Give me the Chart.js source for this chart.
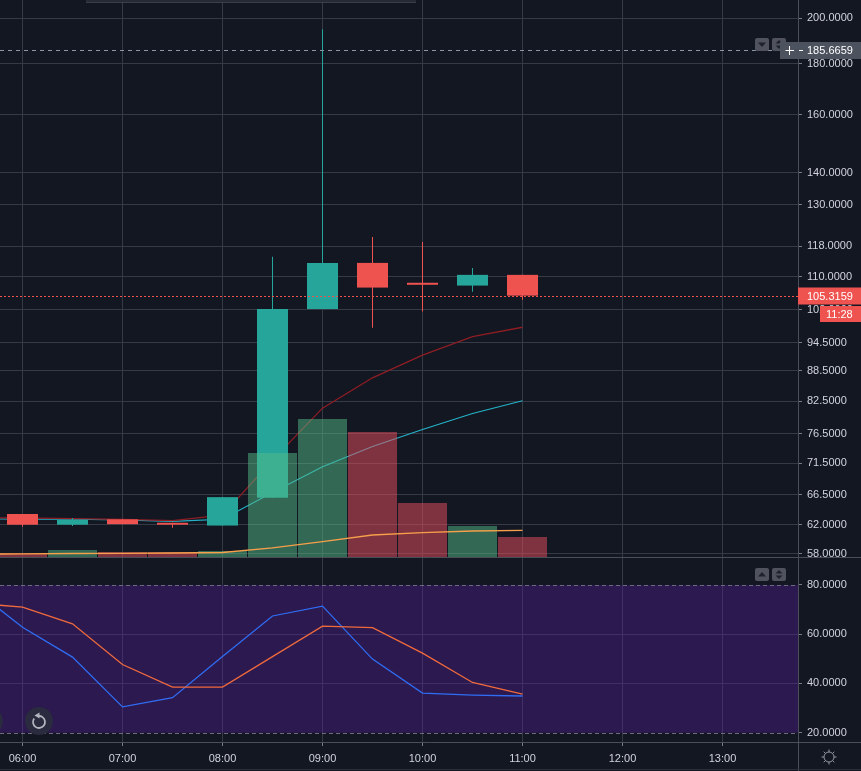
<!DOCTYPE html>
<html><head><meta charset="utf-8">
<script src="https://cdn.jsdelivr.net/npm/chart.js@4.4.1/dist/chart.umd.min.js"></script>
<style>
html,body{margin:0;padding:0;background:#131722;overflow:hidden;}
canvas{display:block;}
</style></head>
<body>
<canvas id="main" width="861" height="557"></canvas>
<canvas id="osc" width="861" height="214"></canvas>
<script>
// ---------------- data ----------------
const candleTimes  = ['06:00','06:30','07:00','07:30','08:00','08:30','09:00','09:30','10:00','10:30','11:00'];
const openValues   = [63.58, 62.02, 62.80, 62.30, 61.90, 66.00, 102.1, 113.6, 108.5, 107.8, 110.5];
const highValues   = [63.58, 63.00, 62.80, 62.30, 66.10, 115.2, 195.0, 120.6, 119.2, 112.3, 110.5];
const lowValues    = [61.74, 61.84, 62.10, 61.60, 61.90, 66.00, 102.1, 97.8, 101.5, 106.3, 104.3];
const closeValues  = [62.02, 62.72, 62.10, 62.02, 66.10, 102.1, 113.6, 107.3, 108.0, 110.5, 105.3159];
const volumeValues = [3.7, 7, 5, 5, 6, 104, 138, 125, 54, 31, 20];

const lineTimes = ['05:30','06:00','06:30','07:00','07:30','08:00','08:30','09:00','09:30','10:00','10:30','11:00'];
const fastMA   = [63.0, 63.0, 62.9, 62.8, 62.6, 63.4, 72.0, 81.2, 87.1, 91.8, 95.8, 97.9];
const slowMA   = [62.9, 62.8, 62.8, 62.7, 62.5, 62.8, 66.8, 70.9, 74.3, 77.3, 80.2, 82.6];
const volumeMA = [2.8, 3.2, 3.5, 3.7, 4.0, 4.5, 9.2, 15.3, 22.0, 24.3, 26.0, 26.7];
const stochK   = [78.7, 62.8, 50.7, 30.5, 34.2, 50.9, 67.4, 71.4, 49.9, 36.1, 35.3, 34.9];
const stochD   = [72.7, 71.0, 64.2, 47.7, 38.5, 38.5, 50.9, 63.3, 62.7, 52.3, 40.4, 35.7];

const priceTicks = [200, 180, 160, 140, 130, 118, 110, 102, 94.5, 88.5, 82.5, 76.5, 71.5, 66.5, 62, 58];
const oscTicks   = [80, 60, 40, 20];
const timeTicks  = ['06:00','07:00','08:00','09:00','10:00','11:00','12:00','13:00'];
const bandLevels = [80, 20];
const lastPrice = 105.3159;
const crosshairPrice = 185.6659;
const countdownText = '11:28';

// ---------------- helpers ----------------
function toHours(t){ const p = t.split(':').map(Number); return p[0] + p[1]/60; }
const hourGrid = timeTicks.map(toHours);
function fixedTicks(values){ return s => { s.ticks = values.map(v => ({value: v})); }; }
function fitY(s){ s.width = 63; s.paddingTop = 0; s.paddingBottom = 0; s.paddingLeft = 0; s.paddingRight = 0; }
function fitX(h){ return s => { s.height = h; s.paddingTop = 0; s.paddingBottom = 0; s.paddingLeft = 0; s.paddingRight = 0; }; }
const X_MIN = 5.775, X_MAX = 13.755;
const UP = '#26a69a', DOWN = '#ef5350';
const gridColor = '#363a45';
const tickMarkColor = '#787b86';
const sepColor = '#4a4e59';
const FONT = '11px "Liberation Sans", Arial, sans-serif';
Chart.defaults.font.family = '"Liberation Sans", Arial, sans-serif';
Chart.defaults.font.size = 11;
Chart.defaults.color = '#d1d4dc';

const isUp = i => closeValues[i] >= openValues[i];
const candleColors = candleTimes.map((t,i) => isUp(i) ? UP : DOWN);
const volColors = candleTimes.map((t,i) => isUp(i) ? 'rgba(83,185,135,0.5)' : 'rgba(235,77,92,0.5)');

function hline(ctx,x1,x2,y){ctx.beginPath();ctx.moveTo(x1,y);ctx.lineTo(x2,y);ctx.stroke();}
function vline(ctx,x,y1,y2){ctx.beginPath();ctx.moveTo(x,y1);ctx.lineTo(x,y2);ctx.stroke();}
function rrect(ctx,x,y,w,h,r){ctx.beginPath(); if(ctx.roundRect){ctx.roundRect(x,y,w,h,r);} else {ctx.rect(x,y,w,h);} }
function drawButtons(ctx, y, firstUp){
  ctx.fillStyle = '#50535e';
  rrect(ctx,755,y,14,13,2); ctx.fill();
  rrect(ctx,772,y,14,13,2); ctx.fill();
  ctx.fillStyle = '#1e222d';
  ctx.beginPath();
  if (firstUp){ ctx.moveTo(758,y+8.5); ctx.lineTo(766,y+8.5); ctx.lineTo(762,y+4); }
  else { ctx.moveTo(758,y+4.5); ctx.lineTo(766,y+4.5); ctx.lineTo(762,y+9); }
  ctx.fill();
  ctx.beginPath(); ctx.moveTo(775.5,y+5.5); ctx.lineTo(782.5,y+5.5); ctx.lineTo(779,y+2); ctx.fill();
  ctx.beginPath(); ctx.moveTo(775.5,y+7.5); ctx.lineTo(782.5,y+7.5); ctx.lineTo(779,y+11); ctx.fill();
}

const bgPlugin = { id:'bg', beforeDraw(chart){ const c = chart.ctx; c.save(); c.fillStyle='#131722'; c.fillRect(0,0,chart.width,chart.height); c.restore(); } };

const overlayMain = {
  id:'overlayMain',
  afterDatasetsDraw(chart){
    const ctx = chart.ctx, a = chart.chartArea, y = chart.scales.y;
    ctx.save();
    ctx.lineWidth = 1;
    const py = Math.round(y.getPixelForValue(lastPrice)) + 0.5;
    ctx.strokeStyle = DOWN; ctx.setLineDash([2,2]);
    hline(ctx, a.left, a.right, py);
    const cy = Math.round(y.getPixelForValue(crosshairPrice)) + 0.5;
    ctx.strokeStyle = '#8d96a8'; ctx.setLineDash([4,4]);
    hline(ctx, a.left, 780, cy);
    ctx.restore();
  },
  afterDraw(chart){
    const ctx = chart.ctx, a = chart.chartArea, y = chart.scales.y;
    ctx.save();
    // toolbar edge at top
    ctx.fillStyle = '#262a35'; ctx.fillRect(86,0,330,2);
    ctx.strokeStyle = '#3a3e4a'; ctx.lineWidth = 1; hline(ctx,86,416,2.5);
    // price axis border
    ctx.strokeStyle = sepColor; vline(ctx, a.right + 0.5, 0, chart.height);
    // pane buttons
    drawButtons(ctx, 38, false);
    // crosshair badge
    const cy = y.getPixelForValue(crosshairPrice);
    ctx.fillStyle = '#4c525e'; ctx.fillRect(780, Math.round(cy) - 8, 81, 17);
    ctx.strokeStyle = '#ffffff'; ctx.lineWidth = 1;
    hline(ctx, 785.5, 794, Math.round(cy)+0.5);
    vline(ctx, 789.5, Math.round(cy)-4, Math.round(cy)+5);
    hline(ctx, 799, 803, Math.round(cy)+0.5);
    ctx.font = FONT; ctx.textBaseline = 'middle'; ctx.textAlign = 'left'; ctx.fillStyle = '#ffffff';
    ctx.fillText(crosshairPrice.toFixed(4), 807, Math.round(cy)+1);
    // last price badge
    const py = y.getPixelForValue(lastPrice);
    ctx.fillStyle = DOWN; ctx.fillRect(798, Math.round(py) - 8.5, 63, 17);
    ctx.fillStyle = '#ffffff'; ctx.fillText(lastPrice.toFixed(4), 807, Math.round(py)+0.5);
    // countdown badge
    ctx.fillStyle = DOWN; ctx.fillRect(820, Math.round(py) + 10, 41, 16);
    ctx.fillStyle = '#ffffff'; ctx.fillText(countdownText, 826, Math.round(py) + 18.5);
    ctx.restore();
  }
};

const bandPlugin = {
  id:'band',
  beforeDatasetsDraw(chart){
    const ctx = chart.ctx, a = chart.chartArea, y = chart.scales.y;
    const y1 = y.getPixelForValue(bandLevels[0]), y2 = y.getPixelForValue(bandLevels[1]);
    ctx.save();
    ctx.fillStyle = 'rgba(93,29,165,0.35)';
    ctx.fillRect(a.left, y1, a.right - a.left, y2 - y1);
    ctx.strokeStyle = '#6f6a80'; ctx.lineWidth = 1; ctx.setLineDash([4,3]);
    bandLevels.forEach(v => hline(ctx, a.left, a.right, Math.round(y.getPixelForValue(v)) + 0.5));
    ctx.restore();
  }
};

const overlayOsc = {
  id:'overlayOsc',
  afterDraw(chart){
    const ctx = chart.ctx, a = chart.chartArea;
    ctx.save();
    ctx.lineWidth = 1; ctx.strokeStyle = sepColor;
    hline(ctx, 0, chart.width, 0.5);
    hline(ctx, 0, chart.width, a.bottom + 0.5);
    vline(ctx, a.right + 0.5, 0, chart.height);
    ctx.strokeStyle = '#2a2e39'; hline(ctx, 0, chart.width, chart.height - 1.5);
    drawButtons(ctx, 11, true);
    // navigation buttons
    ctx.fillStyle = '#2a2b3f';
    ctx.beginPath(); ctx.arc(-11, 164, 14, 0, Math.PI*2); ctx.fill();
    ctx.beginPath(); ctx.arc(39, 164, 14, 0, Math.PI*2); ctx.fill();
    ctx.strokeStyle = '#b2b5be'; ctx.lineWidth = 1.8;
    ctx.beginPath(); ctx.arc(39, 165, 6, -Math.PI*0.55, Math.PI*1.2, false); ctx.stroke();
    ctx.fillStyle = '#b2b5be';
    ctx.beginPath(); ctx.moveTo(34.5,158.5); ctx.lineTo(39.5,155.5); ctx.lineTo(39.5,161.5); ctx.fill();
    // gear
    ctx.lineWidth = 1; ctx.strokeStyle = '#9598a1';
    ctx.beginPath(); ctx.arc(829, 200, 5, 0, Math.PI*2); ctx.stroke();
    for (let k = 0; k < 8; k++){
      const ang = k*Math.PI/4;
      ctx.beginPath(); ctx.moveTo(829+Math.cos(ang)*5, 200+Math.sin(ang)*5);
      ctx.lineTo(829+Math.cos(ang)*7.5, 200+Math.sin(ang)*7.5); ctx.stroke();
    }
    ctx.restore();
  }
};

const xy = (times, vals) => times.map((t,i) => ({x: toHours(t), y: vals[i]}));

// ---------------- main pane ----------------
new Chart(document.getElementById('main'), {
  type: 'line',
  data: { datasets: [
    { type:'line', data: xy(lineTimes, volumeMA), yAxisID:'vol', borderColor:'#f7a04b', borderWidth:1.3, pointRadius:0, tension:0, order:1 },
    { type:'bar', data: xy(candleTimes, volumeValues), yAxisID:'vol', backgroundColor: volColors, barThickness:49, grouped:false, inflateAmount:0, borderWidth:0, order:2 },
    { type:'bar', data: candleTimes.map((t,i)=>({x:toHours(t), y:[openValues[i], closeValues[i]]})), yAxisID:'y', backgroundColor: candleColors, barThickness:31, grouped:false, inflateAmount:0, borderWidth:0, order:3 },
    { type:'bar', data: candleTimes.map((t,i)=>({x:toHours(t), y:[lowValues[i], highValues[i]]})), yAxisID:'y', backgroundColor: candleColors, barThickness:1, grouped:false, inflateAmount:0, borderWidth:0, order:4 },
    { type:'line', data: xy(lineTimes, fastMA), yAxisID:'y', borderColor:'#8e1d24', borderWidth:1.3, pointRadius:0, tension:0, order:5 },
    { type:'line', data: xy(lineTimes, slowMA), yAxisID:'y', borderColor:'#25b3c8', borderWidth:1.1, pointRadius:0, tension:0, order:6 }
  ]},
  options: {
    responsive:false, animation:false, events:[],
    layout:{ padding:0, autoPadding:false },
    plugins:{ legend:{display:false}, tooltip:{enabled:false} },
    scales: {
      x: { type:'linear', min:X_MIN, max:X_MAX, bounds:'data', offset:false,
           afterBuildTicks: fixedTicks(hourGrid), afterFit: fitX(0),
           ticks:{ display:false }, grid:{ color:gridColor, drawTicks:false, offset:false }, border:{ display:false } },
      y: { type:'logarithmic', position:'right', min:57.56, max:208.6, bounds:'data',
           afterBuildTicks: fixedTicks(priceTicks), afterFit: fitY,
           ticks:{ autoSkip:false, padding:5, color:'#d1d4dc', callback: v => Number(v).toFixed(4) },
           grid:{ color:gridColor, tickLength:4, tickColor:tickMarkColor }, border:{ display:false } },
      vol: { type:'linear', display:false, min:0, max:557, bounds:'data' }
    }
  },
  plugins:[bgPlugin, overlayMain]
});

// ---------------- oscillator pane ----------------
new Chart(document.getElementById('osc'), {
  type: 'line',
  data: { datasets: [
    { data: xy(lineTimes, stochD), borderColor:'#f06a3c', borderWidth:1.3, pointRadius:0, tension:0, order:1 },
    { data: xy(lineTimes, stochK), borderColor:'#2f6df3', borderWidth:1.3, pointRadius:0, tension:0, order:2 }
  ]},
  options: {
    responsive:false, animation:false, events:[],
    layout:{ padding:0, autoPadding:false },
    plugins:{ legend:{display:false}, tooltip:{enabled:false} },
    scales: {
      x: { type:'linear', min:X_MIN, max:X_MAX, bounds:'data', offset:false,
           afterBuildTicks: fixedTicks(hourGrid), afterFit: fitX(29),
           ticks:{ autoSkip:false, maxRotation:0, padding:6, color:'#d1d4dc', callback: (v, i) => timeTicks[i] },
           grid:{ color:gridColor, tickLength:4, tickColor:tickMarkColor, offset:false }, border:{ display:false } },
      y: { type:'linear', position:'right', min:16.23, max:91.35, bounds:'data',
           afterBuildTicks: fixedTicks(oscTicks), afterFit: fitY,
           ticks:{ autoSkip:false, padding:5, color:'#d1d4dc', callback: v => Number(v).toFixed(4) },
           grid:{ color: c => (c.tick && bandLevels.includes(c.tick.value)) ? 'rgba(0,0,0,0)' : gridColor, tickLength:4, tickColor:tickMarkColor },
           border:{ display:false } }
    }
  },
  plugins:[bgPlugin, bandPlugin, overlayOsc]
});
</script>
</body></html>
